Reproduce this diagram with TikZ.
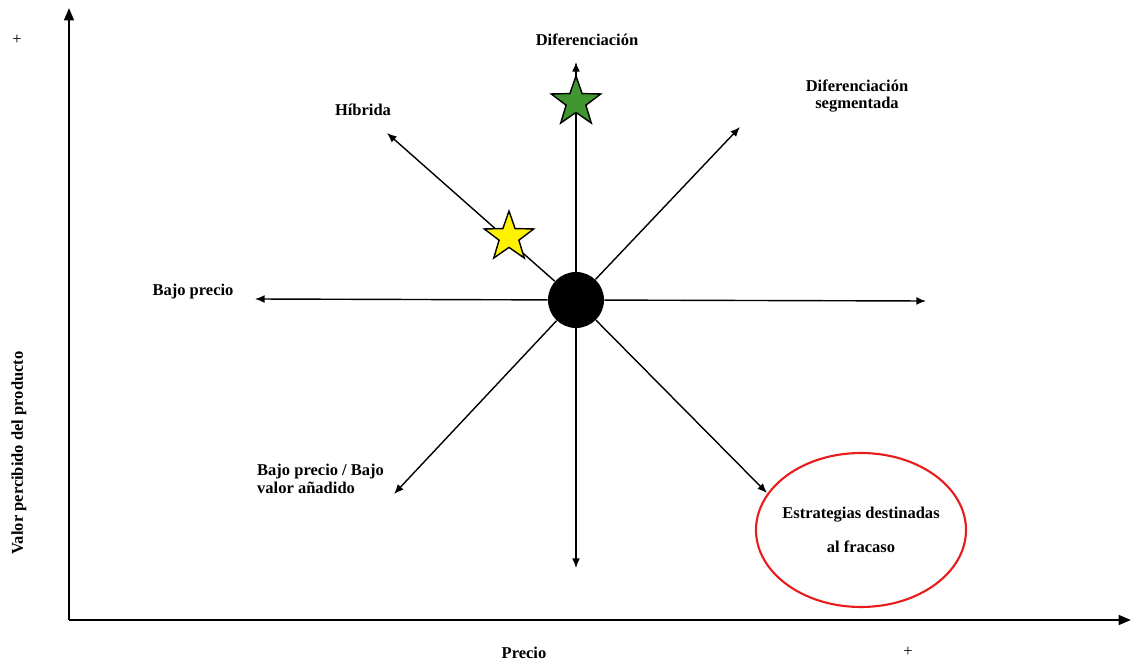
\documentclass[tikz,border=0pt]{standalone}
\usepackage{fontspec}
\setmainfont{Liberation Serif}
\usetikzlibrary{arrows.meta,shapes.geometric}
\definecolor{starGreen}{RGB}{64,150,48}
\definecolor{ringRed}{RGB}{232,28,28}
\tikzset{
  lbl/.style={font=\bfseries\fontsize{9.4}{10}\selectfont, align=center},
  ray/.style={line width=0.8pt, -{Latex[length=5.5pt,width=4.5pt]}},
  axis/.style={line width=1.3pt, -{Triangle[length=7pt,width=5.5pt]}},
  starmark/.style={star, star points=5, star point ratio=2.5, minimum size=1.04cm,
    inner sep=0pt, draw=black, line width=0.8pt}
}
\begin{document}
\begin{tikzpicture}[x=0.02cm,y=-0.02cm]
\useasboundingbox (0,0) rectangle (1134,662);
% axes
\coordinate (O) at (69,620);
\coordinate (yTop) at (69,8);
\coordinate (xEnd) at (1131,620);
\draw[axis] (O) -- (yTop);
\draw[axis] (O) -- (xEnd);
\node[lbl, rotate=90] (yLabel) at (19,453) {Valor percibido del producto};
\node[lbl] (xLabel) at (524,653) {Precio};
\node[font=\fontsize{9.4}{10}\selectfont] (yPlus) at (17,40) {+};
\node[font=\fontsize{9.4}{10}\selectfont] (xPlus) at (908,652) {+};

% strategy clock
\node[circle, fill=black, minimum size=1.12cm, inner sep=0pt] (c) at (576,300) {};
\coordinate (up) at (576,62);
\coordinate (down) at (576,568);
\coordinate (left) at (255,299);
\coordinate (right) at (926,301);
\coordinate (upLeft) at (387,133);
\coordinate (upRight) at (740,127);
\coordinate (lowLeft) at (394,494);
\coordinate (lowRight) at (767,493);
\foreach \t in {up,down,left,right,upLeft,upRight,lowLeft,lowRight}
  \draw[ray] (c) -- (\t);

\node[starmark, fill=starGreen] (greenStar) at (576,102) {};
\node[starmark, fill=yellow] (yellowStar) at (509,237) {};

% labels
\node[lbl] (difLabel) at (587,40) {Diferenciación};
\node[lbl] (segLabel) at (857,96) {Diferenciación\\segmentada};
\node[lbl] (hybLabel) at (363,110) {Híbrida};
\node[lbl] (lowLabel) at (193,292) {Bajo precio};
\node[lbl, align=left, anchor=west] (lowValLabel) at (251,479) {Bajo precio / Bajo\\valor añadido};
\node[lbl] (fail) at (861,530) {Estrategias destinadas\\[9pt]al fracaso};
\draw[ringRed, line width=1.2pt] (fail.center) ellipse [x radius=105, y radius=77];
\end{tikzpicture}
\end{document}
